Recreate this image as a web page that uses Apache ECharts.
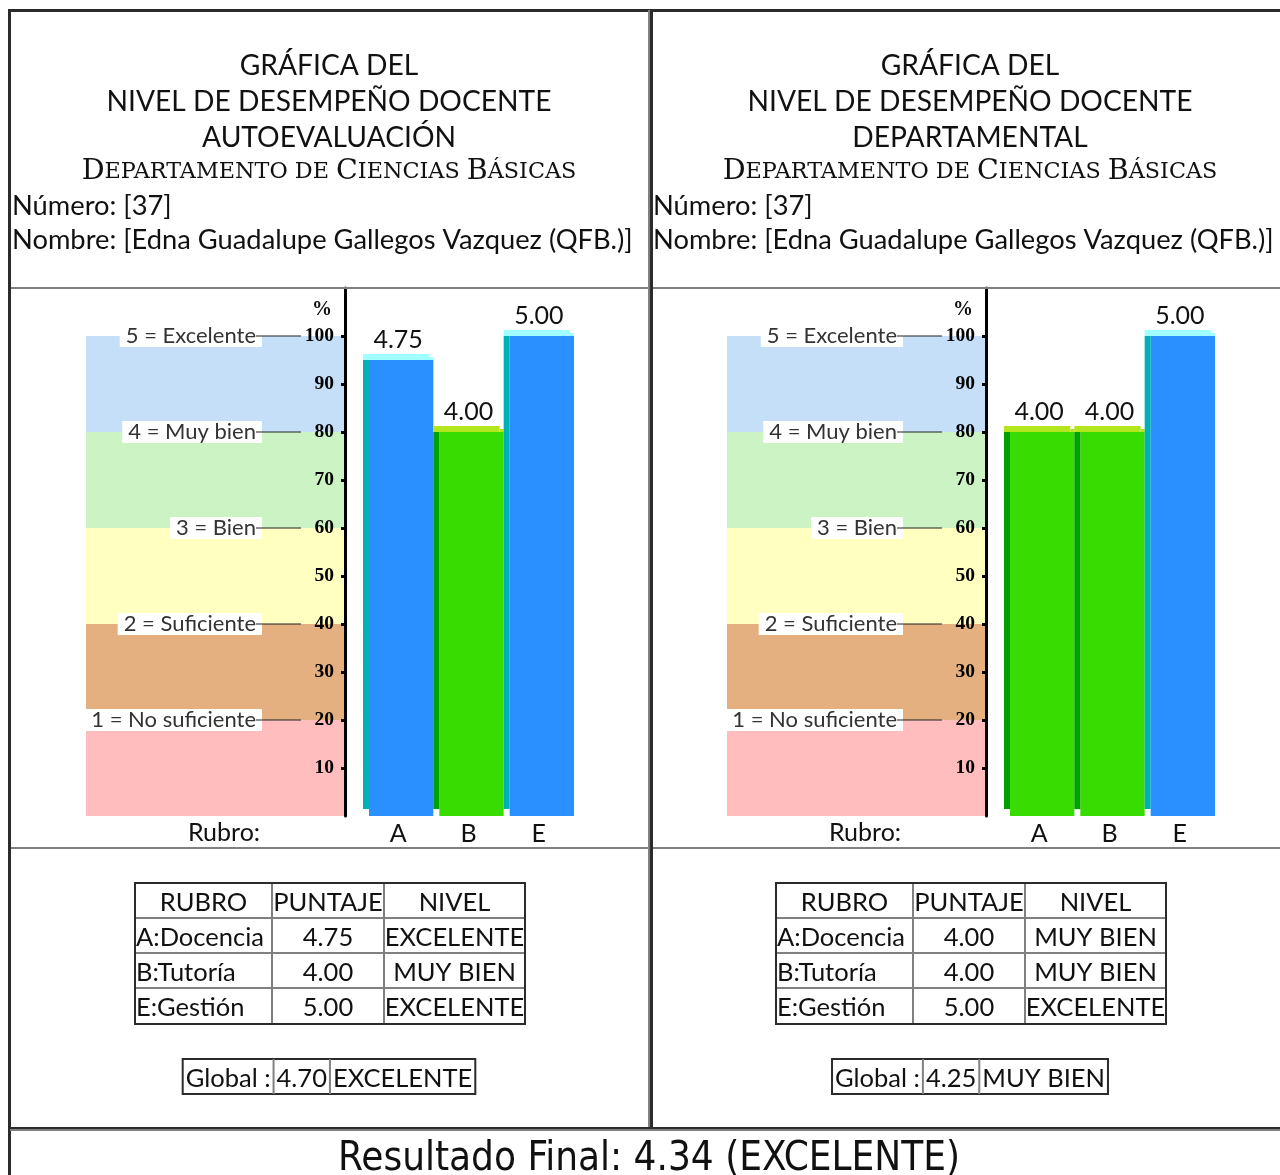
<!DOCTYPE html>
<html><head><meta charset="utf-8">
<script src="https://cdn.jsdelivr.net/npm/echarts@6/dist/echarts.min.js"></script>
<style>html,body{margin:0;padding:0;background:#fff}#c{width:1280px;height:1175px}</style>
</head><body><div id="c"></div>
<script>
// ---------------- DATA ----------------
const categories = ['A', 'B', 'E'];
const rubroNames = ['A:Docencia', 'B:Tutoría', 'E:Gestión'];
const autoScores = [4.75, 4.00, 5.00];
const autoLevels = ['EXCELENTE', 'MUY BIEN', 'EXCELENTE'];
const deptScores = [4.00, 4.00, 5.00];
const deptLevels = ['MUY BIEN', 'MUY BIEN', 'EXCELENTE'];
const autoGlobal = ['4.70', 'EXCELENTE'];
const deptGlobal = ['4.25', 'MUY BIEN'];
const finalResult = 'Resultado Final: 4.34 (EXCELENTE)';
const tickPercents = [10, 20, 30, 40, 50, 60, 70, 80, 90, 100];
const levelScores = [1, 2, 3, 4, 5];
const levelNames = ['No suficiente', 'Suficiente', 'Bien', 'Muy bien', 'Excelente'];
const bandRanges = [[0, 1], [1, 2], [2, 3], [3, 4], [4, 5]];
const titleLines = ['GRÁFICA DEL', 'NIVEL DE DESEMPEÑO DOCENTE'];
const panelTitles = ['AUTOEVALUACIÓN', 'DEPARTAMENTAL'];
const department = 'Departamento de Ciencias Básicas';
const numeroText = 'Número: [37]';
const nombreText = 'Nombre: [Edna Guadalupe Gallegos Vazquez (QFB.)]';
const tableHeader = ['RUBRO', 'PUNTAJE', 'NIVEL'];
const globalLabel = 'Global :';
const rubroLabel = 'Rubro:';

// ---------------- STYLE ----------------
const MAIN_FONT = 'Lato, "Open Sans", sans-serif';
const LEVEL_FONT = 'Lato, "Open Sans", sans-serif';
const SERIF = '"DejaVu Serif", "Liberation Serif", serif';
const AXIS_FONT = '"Liberation Serif", serif';
const COND_FONT = '"Liberation Sans Narrow", "DejaVu Sans Condensed", sans-serif';
const DARK = '#2b2b2b', GRAY = '#808080', INK = '#111';
const BAND_COLORS = ['#ffbdbd', '#e4b07f', '#ffffc0', '#ccf3c3', '#c5dff8'];
const BAR_STYLE = {
  'EXCELENTE': { main: '#2a90ff', side: '#00b0b8', cap: '#a0ffff' },
  'MUY BIEN': { main: '#38dc00', side: '#00a000', cap: '#b4e61e' }
};
const PANEL_DX = [0, 641];
const PANEL_CX = 329;
const TFONT = 25.5;

const panels = [
  { scores: autoScores, levels: autoLevels, global: autoGlobal, title: panelTitles[0] },
  { scores: deptScores, levels: deptLevels, global: deptGlobal, title: panelTitles[1] }
];

const mctx = document.createElement('canvas').getContext('2d');
function textW(t, size, fam) { mctx.font = size + 'px ' + fam; return mctx.measureText(t).width; }

function txt(x, y, text, size, fam, align, extra) {
  return { type: 'text', x: x, y: y, silent: true, z: 20, style: Object.assign({
    text: text, fontSize: size, fontFamily: fam, fill: INK,
    align: align || 'center', verticalAlign: 'middle',
    textAlign: align || 'center', textVerticalAlign: 'middle'
  }, extra || {}) };
}
function line(x1, y1, x2, y2, color, w) {
  return { type: 'line', silent: true, z: 20, shape: { x1: x1, y1: y1, x2: x2, y2: y2 }, style: { stroke: color, lineWidth: w } };
}
function smallCapsRich(str) {
  let out = '', cur = null, buf = '';
  for (const ch of str) {
    const st = (ch !== ch.toLowerCase()) ? 'b' : 's';
    if (st !== cur && buf) { out += '{' + cur + '|' + buf + '}'; buf = ''; }
    cur = st; buf += ch.toUpperCase();
  }
  if (buf) out += '{' + cur + '|' + buf + '}';
  return out;
}

const tickValues = tickPercents.map(p => p / 20);
const grid = [], xAxis = [], yAxis = [], series = [], graphic = [];

// frame lines
graphic.push(line(8, 10.5, 1280, 10.5, DARK, 3));
graphic.push(line(9.5, 9, 9.5, 1175, DARK, 3));
graphic.push(line(649, 10, 649, 1129, GRAY, 2));
graphic.push(line(651.5, 10, 651.5, 1129, DARK, 3));
[[11, 648], [653, 1280]].forEach(r => {
  graphic.push(line(r[0], 288, r[1], 288, GRAY, 2));
  graphic.push(line(r[0], 848, r[1], 848, GRAY, 2));
});
graphic.push(line(10, 1128, 1280, 1128, DARK, 2));
graphic.push(line(10, 1130, 1280, 1130, GRAY, 2));
graphic.push(txt(649, 1160, finalResult, 40, COND_FONT, 'center'));

const TCOLS = [135, 272, 384, 525], TROWS = [883, 918, 953, 988, 1024];

panels.forEach((p, pi) => {
  const dx = PANEL_DX[pi];
  const cx = PANEL_CX + dx;
  // header
  graphic.push(txt(cx, 66, titleLines[0], 28.2, MAIN_FONT));
  graphic.push(txt(cx, 102, titleLines[1], 28.2, MAIN_FONT));
  graphic.push(txt(cx, 138, p.title, 28.2, MAIN_FONT));
  graphic.push(txt(cx, 172, smallCapsRich(department), 28.5, SERIF, 'center', {
    rich: { b: { fontSize: 28.5, fontFamily: SERIF, fill: INK }, s: { fontSize: 22.3, fontFamily: SERIF, fill: INK } }
  }));
  graphic.push(txt(12 + dx, 206, numeroText, 27.3, MAIN_FONT, 'left'));
  graphic.push(txt(12 + dx, 240, nombreText, 27.3, MAIN_FONT, 'left'));
  graphic.push(txt(224 + dx, 833, rubroLabel, 25, MAIN_FONT));
  graphic.push(txt(322 + dx, 310, '%', 20, AXIS_FONT, 'center', { fontWeight: 'bold' }));

  // main table
  for (let i = 1; i < TCOLS.length - 1; i++) graphic.push(line(TCOLS[i] + dx, TROWS[0], TCOLS[i] + dx, TROWS[4], GRAY, 2));
  for (let j = 1; j < TROWS.length - 1; j++) graphic.push(line(TCOLS[0] + dx, TROWS[j], TCOLS[3] + dx, TROWS[j], GRAY, 2));
  graphic.push({ type: 'rect', silent: true, z: 20, shape: { x: TCOLS[0] + dx, y: TROWS[0], width: TCOLS[3] - TCOLS[0], height: TROWS[4] - TROWS[0] },
    style: { fill: 'transparent', stroke: DARK, lineWidth: 2 } });
  const colC = i => (TCOLS[i] + TCOLS[i + 1]) / 2 + dx;
  const rowC = j => (TROWS[j] + TROWS[j + 1]) / 2 + 2;
  tableHeader.forEach((h, i) => graphic.push(txt(colC(i), rowC(0), h, TFONT, MAIN_FONT)));
  rubroNames.forEach((n, r) => {
    graphic.push(txt(TCOLS[0] + dx + 1, rowC(r + 1), n, TFONT, MAIN_FONT, 'left'));
    graphic.push(txt(colC(1), rowC(r + 1), p.scores[r].toFixed(2), TFONT, MAIN_FONT));
    graphic.push(txt(colC(2), rowC(r + 1), p.levels[r], TFONT, MAIN_FONT));
  });

  // global table
  const gCells = [globalLabel, p.global[0], p.global[1]];
  const gW = gCells.map(t => textW(t, TFONT, MAIN_FONT) + 6);
  const gTot = gW.reduce((a, b) => a + b, 0);
  let gx = cx - gTot / 2;
  const gy0 = 1059, gy1 = 1094;
  graphic.push({ type: 'rect', silent: true, z: 20, shape: { x: gx, y: gy0, width: gTot, height: gy1 - gy0 },
    style: { fill: 'transparent', stroke: DARK, lineWidth: 2 } });
  gCells.forEach((t, i) => {
    if (i > 0) graphic.push(line(gx, gy0, gx, gy1, GRAY, 2));
    if (i === 1) graphic.push(txt(gx + gW[i] / 2, (gy0 + gy1) / 2 + 2, t, TFONT, MAIN_FONT));
    else graphic.push(txt(gx + 3, (gy0 + gy1) / 2 + 2, t, TFONT, MAIN_FONT, 'left'));
    gx += gW[i];
  });

  // grids
  const gi = pi * 2;
  grid.push({ left: 86 + dx, top: 288, width: 259, height: 528 });
  grid.push({ left: 363 + dx, top: 288, width: 211, height: 528 });
  xAxis.push({ gridIndex: gi, type: 'value', min: 0, max: 1, show: false });
  xAxis.push({ gridIndex: gi + 1, type: 'category', data: categories,
    axisLine: { show: false }, axisTick: { show: false },
    axisLabel: { fontSize: 25, color: INK, margin: 5, fontFamily: MAIN_FONT } });
  yAxis.push({ gridIndex: gi, type: 'value', min: 0, max: 5.5, show: false });
  yAxis.push({ gridIndex: gi + 1, type: 'value', min: 0, max: 5.5, offset: 18, z: 10,
    splitLine: { show: false },
    axisLine: { show: true, lineStyle: { color: '#000', width: 3 } },
    axisTick: { show: true, customValues: tickValues, length: 4, lineStyle: { color: '#000', width: 3 } },
    axisLabel: { customValues: tickValues, formatter: v => String(Math.round(v * 20)),
      fontFamily: AXIS_FONT, fontWeight: 'bold', fontSize: 19.5, color: '#000', margin: 11 } });

  // bands
  series.push({ type: 'custom', xAxisIndex: gi, yAxisIndex: gi, silent: true, z: -1,
    data: bandRanges.map((r, i) => [r[0], r[1], i]),
    renderItem: (params, api) => {
      const cs = params.coordSys;
      const y0 = api.coord([0, api.value(0)])[1];
      const y1 = api.coord([0, api.value(1)])[1];
      return { type: 'rect', shape: { x: cs.x, y: y1, width: cs.width, height: y0 - y1 },
        style: { fill: BAND_COLORS[api.value(2)] } };
    } });
  // level labels
  series.push({ type: 'custom', xAxisIndex: gi, yAxisIndex: gi, silent: true, z: 3,
    data: levelScores.map((s, i) => [s, i]),
    renderItem: (params, api) => {
      const cs = params.coordSys;
      const y = api.coord([0, api.value(0)])[1];
      const idx = api.value(1);
      return { type: 'group', children: [
        { type: 'text', x: cs.x + 176, y: y, style: {
          text: levelScores[idx] + ' = ' + levelNames[idx], fill: '#333', fontSize: 22, fontFamily: LEVEL_FONT,
          align: 'right', verticalAlign: 'middle', textAlign: 'right', textVerticalAlign: 'middle',
          backgroundColor: '#fff', padding: [0, 6, 0, 6] } },
        { type: 'line', shape: { x1: cs.x + 170, y1: y, x2: cs.x + 215, y2: y }, style: { stroke: '#222', lineWidth: 1.2 } }
      ] };
    } });
  // bars
  const lv = p.levels;
  series.push({ type: 'custom', xAxisIndex: gi + 1, yAxisIndex: gi + 1, silent: true, z: 4,
    data: p.scores.map((v, i) => [i, v]),
    renderItem: (params, api) => {
      const top = api.coord([api.value(0), api.value(1)]);
      const base = api.coord([api.value(0), 0]);
      const w = api.size([1, 0])[0];
      const L = top[0] - w / 2, R = top[0] + w / 2, T = top[1], B = base[1];
      const st = BAR_STYLE[lv[params.dataIndex]];
      return { type: 'group', children: [
        { type: 'rect', shape: { x: L + 6, y: T, width: R - L - 6, height: B - T }, style: { fill: st.main } },
        { type: 'rect', shape: { x: L, y: T, width: 6, height: B - T - 7 }, style: { fill: st.side } },
        { type: 'rect', shape: { x: L, y: T - 6, width: w - 4, height: 6 }, style: { fill: st.cap } },
        { type: 'rect', shape: { x: R - 4, y: T - 3, width: 4, height: 3 }, style: { fill: st.cap } },
        { type: 'text', x: top[0], y: T - 20, style: { text: api.value(1).toFixed(2), fill: INK, fontSize: 25,
          fontFamily: MAIN_FONT, align: 'center', verticalAlign: 'middle', textAlign: 'center', textVerticalAlign: 'middle' } }
      ] };
    } });
});

const chart = echarts.init(document.getElementById('c'), null, { renderer: 'canvas', width: 1280, height: 1175 });
chart.setOption({ animation: false, backgroundColor: '#fff', grid: grid, xAxis: xAxis, yAxis: yAxis, series: series, graphic: graphic });
</script>
</body></html>
